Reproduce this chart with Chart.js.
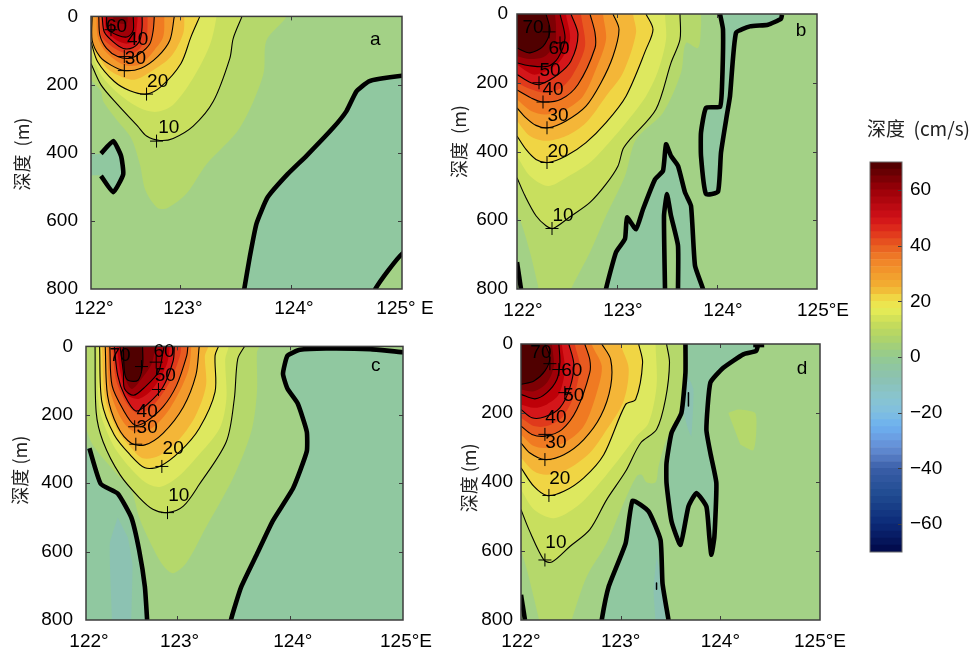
<!DOCTYPE html>
<html>
<head>
<meta charset="utf-8">
<script src="https://cdn.jsdelivr.net/npm/chart.js@4"></script>
<style>
html, body { margin: 0; padding: 0; background: #fff; }
canvas { position: absolute; }
</style>
</head>
<body>
<script>
// shared axes
var depthTicks = [0, 200, 400, 600, 800];
var lonTicksShort = [122.2, 123, 124, 125];
var lonTicksFull = [122, 123, 124, 125];

//////////////////////////////// PANEL a ////////////////////////////////
var aLon5 = [[122.2,186],[122.29,220],[122.31,249],[122.43,303],[122.56,356],[122.64,434],[122.69,510],[122.80,562],[122.89,562],[123.06,520],[123.24,434],[123.54,327],[123.75,172],[123.78,70],[123.96,0]];
var aLon10 = [[122.2,138],[122.29,201],[122.44,259],[122.62,322],[122.70,351],[122.82,364],[122.94,358],[123.12,322],[123.30,250],[123.45,123],[123.48,65],[123.56,0]];
var aLon15 = [[122.2,104],[122.29,172],[122.46,230],[122.64,269],[122.79,280],[122.94,259],[123.12,181],[123.27,84],[123.33,0]];
var aLon20 = [[122.2,75],[122.26,133],[122.41,191],[122.55,218],[122.70,228],[122.83,206],[123.01,138],[123.10,60],[123.18,0]];
var aLon25 = [[122.2,55],[122.32,143],[122.44,172],[122.59,186],[122.74,162],[122.92,118],[123.03,50],[123.04,0]];
var aLon30 = [[122.21,0],[122.21,70],[122.28,118],[122.38,143],[122.50,159],[122.65,152],[122.80,118],[122.91,70],[122.95,0]];
var aLon35 = [[122.25,0],[122.26,60],[122.32,99],[122.44,133],[122.53,145],[122.65,140],[122.77,99],[122.85,60],[122.86,0]];
var aLon40 = [[122.27,0],[122.28,55],[122.34,94],[122.44,118],[122.55,123],[122.64,109],[122.73,80],[122.76,41],[122.77,0]];
var aLon45 = [[122.29,0],[122.29,55],[122.37,84],[122.47,104],[122.56,109],[122.64,94],[122.70,60],[122.71,0]];
var aLon50 = [[122.30,0],[122.32,46],[122.40,75],[122.49,94],[122.58,91],[122.64,70],[122.66,31],[122.66,0]];
var aLon55 = [[122.32,0],[122.34,41],[122.43,70],[122.52,80],[122.59,70],[122.61,36],[122.62,0]];
var aLon60 = [[122.34,0],[122.35,36],[122.44,55],[122.53,60],[122.58,41],[122.58,0]];
var aLon65 = [[122.40,0],[122.41,16],[122.52,21],[122.53,0]];
var aNegMain = [[125.1,172],[125,174],[124.80,183],[124.70,191],[124.59,220],[124.50,278],[124.38,327],[124.14,409],[123.97,463],[123.79,531],[123.69,608],[123.63,705],[123.58,800],[123.57,830],[124.73,830],[124.76,800],[124.88,744],[125,697],[125.1,685]];
var aNegPocket = [[122.1,403],[122.29,403],[122.40,366],[122.47,409],[122.49,463],[122.40,516],[122.29,468],[122.1,468]];
var aThickPocket = [[122.29,403],[122.40,366],[122.47,409],[122.49,463],[122.40,516],[122.29,468]];
var aMarks = [[122.38,39],[122.50,118],[122.50,159],[122.70,228],[122.79,366]];
var aLabels = ["60", "40", "30", "20", "10", "a"];
var aLabelPos = [[122.43,31],[122.62,70],[122.60,123],[122.80,191],[122.90,327],[124.76,70]];

//////////////////////////////// PANEL b ////////////////////////////////
var bLon5 = [[122,587],[122.04,606],[122.13,693],[122.21,790],[122.23,820],[122.53,820],[122.54,800],[122.73,693],[122.89,587],[123.08,471],[123.19,365],[123.46,287],[123.64,171],[123.69,84],[123.81,99],[123.84,36],[123.84,0]];
var bLon10 = [[122,476],[122.08,529],[122.19,587],[122.29,616],[122.36,624],[122.53,590],[122.73,548],[122.89,495],[123.01,442],[123.06,393],[123.13,365],[123.39,277],[123.54,142],[123.63,74],[123.63,0]];
var bLon15 = [[122,413],[122.13,471],[122.31,500],[122.49,476],[122.73,432],[122.89,384],[123.09,316],[123.29,239],[123.41,166],[123.49,74],[123.48,0]];
var bLon20 = [[122,355],[122.09,394],[122.19,423],[122.31,432],[122.49,413],[122.69,374],[122.89,316],[123.09,239],[123.29,103],[123.36,45],[123.29,0]];
var bLon25 = [[122,311],[122.13,355],[122.29,369],[122.49,355],[122.69,316],[122.89,239],[123.06,171],[123.19,55],[123.16,0]];
var bLon30 = [[122,273],[122.09,302],[122.19,324],[122.31,331],[122.49,311],[122.69,268],[122.84,200],[122.96,123],[123.02,45],[122.96,0]];
var bLon35 = [[122,249],[122.14,282],[122.29,292],[122.49,277],[122.66,239],[122.79,160],[122.89,74],[122.86,0]];
var bLon40 = [[122,221],[122.14,244],[122.26,256],[122.44,248],[122.61,205],[122.78,99],[122.78,55],[122.73,0]];
var bLon45 = [[122,200],[122.14,219],[122.28,229],[122.44,215],[122.56,176],[122.68,94],[122.64,0]];
var bLon50 = [[122,176],[122.14,200],[122.23,205],[122.41,176],[122.54,137],[122.61,60],[122.54,0]];
var bLon55 = [[122,147],[122.16,176],[122.29,166],[122.43,137],[122.53,74],[122.49,0]];
var bLon60 = [[122,142],[122.11,150],[122.31,152],[122.41,128],[122.48,70],[122.43,0]];
var bLon65 = [[122,123],[122.13,131],[122.28,123],[122.38,84],[122.39,36],[122.38,0]];
var bLon70 = [[122,99],[122.13,113],[122.26,94],[122.33,50],[122.29,0]];
var bNegTop = [[124.03,0],[124.06,45],[124.05,210],[124.03,270],[123.89,273],[123.84,345],[123.84,413],[123.89,524],[124.01,517],[124.04,403],[124.10,292],[124.13,239],[124.19,55],[124.33,36],[124.51,31],[124.64,14],[124.65,2]];
var bNegBottom = [[122.88,840],[122.89,800],[122.99,693],[123.08,654],[123.10,592],[123.19,626],[123.26,568],[123.38,481],[123.46,456],[123.49,379],[123.54,413],[123.61,442],[123.68,519],[123.74,558],[123.78,732],[123.86,800],[123.88,840]];
var bSpike = [[123.48,840],[123.48,800],[123.47,587],[123.50,524],[123.54,587],[123.61,674],[123.61,800],[123.61,840]];
var bCorner = [[122.0,722],[122.04,800]];
var bMarks = [[122.32,52],[122.43,84],[122.22,200],[122.26,256],[122.30,331],[122.30,432],[122.35,624]];
var bLabels = ["70", "60", "50", "40", "30", "20", "10", "b"];
var bLabelPos = [[122.16,41],[122.42,102],[122.33,166],[122.36,221],[122.41,295],[122.41,401],[122.46,587],[124.84,50]];

//////////////////////////////// PANEL c ////////////////////////////////
var cLon5 = [[122.2,240],[122.26,288],[122.45,365],[122.60,423],[122.67,500],[122.76,568],[122.88,640],[122.97,663],[123.09,631],[123.26,529],[123.50,384],[123.66,249],[123.71,133],[123.71,17],[123.73,0]];
var cLon10 = [[122.28,0],[122.29,193],[122.35,278],[122.50,375],[122.67,442],[122.79,476],[122.92,486],[123.06,467],[123.20,404],[123.44,278],[123.51,153],[123.54,37],[123.60,0]];
var cLon15 = [[122.30,0],[122.32,182],[122.44,288],[122.59,355],[122.73,399],[122.85,411],[123.00,385],[123.17,327],[123.38,240],[123.44,153],[123.43,37],[123.46,0]];
var cLon20 = [[122.32,0],[122.34,162],[122.45,259],[122.59,317],[122.72,355],[122.85,351],[123.03,307],[123.20,240],[123.34,133],[123.34,27],[123.37,0]];
var cLon25 = [[122.34,0],[122.37,153],[122.47,240],[122.59,293],[122.70,327],[122.85,319],[123.03,269],[123.17,201],[123.26,114],[123.25,27],[123.28,0]];
var cLon30 = [[122.37,0],[122.39,143],[122.48,235],[122.60,283],[122.72,288],[122.88,254],[123.06,177],[123.17,85],[123.20,0]];
var cLon35 = [[122.39,0],[122.41,124],[122.51,211],[122.62,249],[122.76,244],[122.94,182],[123.10,75],[123.13,0]];
var cLon40 = [[122.41,0],[122.43,114],[122.53,186],[122.63,230],[122.73,220],[122.88,177],[123.00,114],[123.09,27],[123.10,0]];
var cLon45 = [[122.43,0],[122.47,104],[122.57,172],[122.66,196],[122.78,177],[122.94,104],[123.03,27],[123.04,0]];
var cLon50 = [[122.45,0],[122.48,85],[122.54,143],[122.64,189],[122.75,167],[122.88,119],[122.97,42],[122.98,0]];
var cLon55 = [[122.47,0],[122.51,85],[122.57,143],[122.67,153],[122.79,124],[122.91,56],[122.94,0]];
var cLon60 = [[122.50,0],[122.53,75],[122.54,124],[122.62,143],[122.72,119],[122.84,75],[122.88,17],[122.89,0]];
var cLon65 = [[122.51,0],[122.53,75],[122.60,124],[122.69,95],[122.78,51],[122.81,0]];
var cLon70 = [[122.53,0],[122.54,75],[122.57,99],[122.66,99],[122.70,56],[122.70,0]];
var cNegRight = [[125.1,17],[125,17],[124.71,8],[124.32,6],[124.09,10],[123.98,27],[123.94,80],[123.98,124],[124.07,167],[124.15,249],[124.15,307],[124.03,414],[123.85,510],[123.71,607],[123.57,704],[123.48,800],[123.47,840],[125.1,840]];
var cNegLeftFill = [[122.1,298],[122.23,298],[122.33,402],[122.48,430],[122.60,500],[122.67,597],[122.72,703],[122.74,800],[122.75,840],[122.1,840]];
var cThickLeft = [[122.23,298],[122.33,402],[122.48,430],[122.60,500],[122.67,597],[122.72,703],[122.74,800]];
var cStrip = [[122.48,500],[122.41,578],[122.43,800],[122.43,840],[122.60,840],[122.60,800],[122.61,636],[122.57,559]];
var cMarks = [[122.69,59],[122.82,46],[122.84,126],[122.63,235],[122.64,286],[122.87,351],[122.92,486]];
var cLabels = ["70", "60", "50", "40", "30", "20", "10", "c"];
var cLabelPos = [[122.50,27],[122.89,17],[122.90,87],[122.74,191],[122.74,238],[122.97,299],[123.02,438],[124.76,58]];

//////////////////////////////// PANEL d ////////////////////////////////
var dLon5 = [[122,597],[122.06,655],[122.18,798],[122.19,820],[122.49,820],[122.51,798],[122.66,674],[122.86,577],[123.03,461],[123.16,383],[123.21,379],[123.26,401],[123.35,401],[123.38,355],[123.46,277],[123.60,200],[123.63,83],[123.64,0]];
var dLon10 = [[122,480],[122.08,538],[122.23,626],[122.31,632],[122.49,587],[122.69,538],[122.86,451],[123.05,369],[123.20,287],[123.36,248],[123.45,160],[123.49,54],[123.46,0]];
var dLon15 = [[122,422],[122.13,480],[122.33,505],[122.56,471],[122.76,413],[122.98,335],[123.16,267],[123.28,229],[123.36,122],[123.35,0]];
var dLon20 = [[122,359],[122.13,413],[122.26,439],[122.43,427],[122.63,388],[122.83,321],[123.05,175],[123.15,161],[123.22,54],[123.18,0]];
var dLon25 = [[122,330],[122.13,369],[122.26,379],[122.46,364],[122.69,316],[122.86,248],[123.03,165],[123.08,70],[123.00,0]];
var dLon30 = [[122,287],[122.09,316],[122.24,335],[122.43,321],[122.63,277],[122.80,209],[122.90,122],[122.90,45],[122.81,0]];
var dLon35 = [[122,262],[122.13,296],[122.26,301],[122.46,282],[122.63,238],[122.76,141],[122.81,64],[122.71,0]];
var dLon40 = [[122,238],[122.11,262],[122.24,267],[122.41,248],[122.56,190],[122.69,83],[122.69,45],[122.64,0]];
var dLon45 = [[122,214],[122.13,238],[122.26,238],[122.41,214],[122.53,151],[122.59,64],[122.54,0]];
var dLon50 = [[122,190],[122.11,214],[122.24,211],[122.39,185],[122.49,127],[122.53,59],[122.48,0]];
var dLon55 = [[122,175],[122.13,185],[122.26,175],[122.38,146],[122.44,74],[122.41,0]];
var dLon60 = [[122,146],[122.14,159],[122.26,141],[122.36,103],[122.39,54],[122.38,0]];
var dLon65 = [[122,132],[122.13,137],[122.26,112],[122.33,64],[122.31,0]];
var dLon70 = [[122,117],[122.13,107],[122.24,78],[122.29,40],[122.24,0]];
var dNegTop = [[123.65,0],[123.65,83],[123.61,199],[123.51,258],[123.46,345],[123.46,403],[123.51,514],[123.60,582],[123.68,471],[123.76,432],[123.86,471],[123.89,560],[123.91,611],[123.94,560],[123.96,403],[123.90,316],[123.86,248],[123.90,112],[124.03,69],[124.23,30],[124.36,20],[124.38,0]];
var dNegBottom = [[122.80,840],[122.81,800],[122.88,703],[123.05,577],[123.12,454],[123.28,485],[123.40,568],[123.42,694],[123.48,800],[123.50,840]];
var dCorner = [[122.0,727],[122.04,800]];
var dCap = [[124.33,3],[124.44,3]];
var dStripUpper = [[123.66,83],[123.73,131],[123.71,267],[123.68,250],[123.63,199]];
var dStripLower = [[123.36,616],[123.33,713],[123.35,800],[123.35,840],[123.45,840],[123.45,800],[123.42,694]];
var dPatch = [[124.08,200],[124.18,190],[124.35,200],[124.36,258],[124.33,308],[124.20,291]];
var dNickUpper = [[123.68,141],[123.68,180]];
var dNickLower = [[123.36,693],[123.36,711]];
var dMarks = [[122.29,57],[122.38,74],[122.44,141],[122.24,262],[122.24,335],[122.28,439],[122.24,626]];
var dLabels = ["70", "60", "50", "40", "30", "20", "10", "d"];
var dLabelPos = [[122.20,25],[122.51,78],[122.53,151],[122.35,214],[122.35,287],[122.39,390],[122.35,577],[124.82,72]];

//////////////////////////////// COLOUR BAR ////////////////////////////////
var barEdges = [-70,-67.5,-65,-62.5,-60,-57.5,-55,-52.5,-50,-47.5,-45,-42.5,-40,-37.5,-35,-32.5,-30,-27.5,-25,-22.5,-20,-17.5,-15,-12.5,-10,-7.5,-5,-2.5,0,2.5,5,7.5,10,12.5,15,17.5,20,22.5,25,27.5,30,32.5,35,37.5,40,42.5,45,47.5,50,52.5,55,57.5,60,62.5,65,67.5,70];
var barTicks = [-60, -40, -20, 0, 20, 40, 60];
var barTickLabels = ["\u221260", "\u221240", "\u221220", "0", "20", "40", "60"];

// colours of the fill bands
var negColor = "#90C8A0";
var negDeepColor = "#8CC2B2";
var baseColor = "#A3D186";
var bandColors = {5: "#B5D86B", 10: "#C8DF5E", 15: "#DDE85F", 20: "#F0D544", 25: "#F4B638", 30: "#F39A2C", 35: "#F07A22", 40: "#E85A20", 45: "#E03A1C", 50: "#D4161A", 55: "#BE0008", 60: "#A00008", 65: "#7E0004", 70: "#500000"};
var barStops = [[-70,"#000848"],[-60,"#0c2a78"],[-50,"#1f4a90"],[-40,"#3a5fa8"],[-35,"#5a80c8"],[-30,"#6a9ae0"],[-25,"#6cb0f0"],[-20,"#80bfe0"],[-15,"#88c4d0"],[-7,"#8cc2ae"],[-2,"#90c89a"],[2,"#9bcd84"],[7,"#b0d468"],[12,"#c8dc5a"],[17,"#e8ec55"],[20,"#efe04a"],[22,"#f0d040"],[25,"#f2b033"],[30,"#f29a2c"],[35,"#f08028"],[40,"#e85a20"],[45,"#e0301c"],[50,"#d01018"],[60,"#9a0008"],[70,"#4a0000"]];

var fontName = "'Liberation Sans', Arial, sans-serif";
var fontSize = 19;
var cjkFont = "'Noto Sans CJK SC', " + fontName;

/**
 * Close a contour that leans on the top of the plot, with the extra points outside the plot
 */
function closeAtTop(points){
    var first = points[0];
    var last = points[points.length - 1];
    var outLon = first[1] <= 0 ? first[0] : first[0] - 0.3;
    return points.concat([[last[0], -40], [outLon, -40], [outLon, first[1]]]);
}

function fillDataset(points, color, tension){
    return {type: "scatter", data: points, showLine: true, fill: "shape", backgroundColor: color, borderWidth: 0, pointRadius: 0, tension: tension, clip: 0};
}

function lineDataset(points, width, tension){
    return {type: "scatter", data: points, showLine: true, fill: false, borderColor: "#000", borderWidth: width, borderJoinStyle: "round", pointRadius: 0, tension: tension, clip: 0};
}

/**
 * Draw base colour, frame, inward ticks and text of one plot
 */
function panelDecor(cfg){
    return {
        id: "panelDecor",
        beforeDatasetsDraw(chart){
            var a = chart.chartArea;
            chart.ctx.fillStyle = baseColor;
            chart.ctx.fillRect(a.left, a.top, a.right - a.left, a.bottom - a.top);
        },
        afterDatasetsDraw(chart){
            var ctx = chart.ctx, a = chart.chartArea, x = chart.scales.x, y = chart.scales.y;
            ctx.save();
            ctx.strokeStyle = "#3c3c3c";
            ctx.lineWidth = 1;
            ctx.beginPath();
            cfg.lonTicks.slice(1, -1).forEach(v => {
                var px = Math.round(x.getPixelForValue(v)) + 0.5;
                ctx.moveTo(px, a.top); ctx.lineTo(px, a.top + 4);
                ctx.moveTo(px, a.bottom); ctx.lineTo(px, a.bottom - 4);
            });
            depthTicks.slice(1, -1).forEach(v => {
                var py = Math.round(y.getPixelForValue(v)) + 0.5;
                ctx.moveTo(a.left, py); ctx.lineTo(a.left + 4, py);
                ctx.moveTo(a.right, py); ctx.lineTo(a.right - 4, py);
            });
            ctx.stroke();
            ctx.lineWidth = 1.5;
            ctx.strokeRect(a.left, a.top, a.right - a.left, a.bottom - a.top);
            ctx.fillStyle = "#000";
            ctx.font = fontSize + "px " + fontName;
            ctx.textAlign = "center";
            ctx.textBaseline = "middle";
            cfg.labels.forEach((text, i) => {
                ctx.fillText(text, x.getPixelForValue(cfg.labelPos[i][0]), y.getPixelForValue(cfg.labelPos[i][1]));
            });
            // depth title, rotated
            ctx.translate(cfg.titleX, y.getPixelForValue(cfg.titleDepth));
            ctx.rotate(-Math.PI / 2);
            ctx.fillStyle = "#222";
            ctx.font = "18px " + cjkFont;
            ctx.fillText(cfg.depthTitle, 0, 0);
            ctx.restore();
        }
    };
}

/**
 * Create one section plot
 */
function createPanel(cfg){
    var canvas = document.createElement("canvas");
    canvas.width = cfg.width;
    canvas.height = cfg.height;
    canvas.style.left = cfg.left + "px";
    canvas.style.top = cfg.top + "px";
    document.body.appendChild(canvas);

    // bottom to top, Chart.js draws the first dataset last
    var datasets = [];
    cfg.negFills.forEach(f => datasets.push(fillDataset(f[0], f[1], 0.15)));
    cfg.bands.forEach(b => datasets.push(fillDataset(closeAtTop(b[1]), bandColors[b[0]], 0.3)));
    (cfg.patches || []).forEach(f => datasets.push(fillDataset(f[0], f[1], 0.2)));
    cfg.thick.forEach(t => datasets.push(lineDataset(t, 4.6, 0.15)));
    (cfg.thin || []).forEach(t => datasets.push(lineDataset(t, 1.5, 0)));
    cfg.bands.filter(b => b[0] % 10 == 0).forEach(b => datasets.push(lineDataset(b[1], 1.1, 0.3)));
    datasets.push({type: "scatter", data: cfg.marks, pointStyle: "cross", pointRadius: 6.5, borderColor: "#000", pointBorderColor: "#000", pointBorderWidth: 1, clip: 0});
    datasets.reverse();

    return new Chart(canvas.getContext("2d"), {
        type: "scatter",
        data: {datasets: datasets},
        options: {
            responsive: false,
            animation: false,
            devicePixelRatio: 1,
            events: [],
            layout: {padding: {top: cfg.plotTop, right: cfg.paddingRight, left: 0, bottom: 0}},
            plugins: {legend: {display: false}, tooltip: {enabled: false}},
            scales: {
                x: {
                    type: "linear",
                    min: cfg.lonTicks[0],
                    max: 125,
                    afterBuildTicks: s => { s.ticks = cfg.lonTicks.map(v => ({value: v})); },
                    afterFit: s => { s.height = cfg.axisHeight; },
                    grid: {display: false},
                    border: {display: false},
                    ticks: {
                        autoSkip: false,
                        maxRotation: 0,
                        padding: cfg.lonPad,
                        labelOffset: cfg.labelOffset,
                        color: "#000",
                        font: {family: fontName, size: fontSize},
                        callback: (v) => cfg.lonLabels[cfg.lonTicks.indexOf(v)]
                    }
                },
                y: {
                    type: "linear",
                    reverse: true,
                    min: 0,
                    max: 800,
                    afterBuildTicks: s => { s.ticks = depthTicks.map(v => ({value: v})); },
                    afterFit: s => { s.width = cfg.axisWidth; },
                    grid: {display: false},
                    border: {display: false},
                    ticks: {autoSkip: false, padding: cfg.depthPad, color: "#000", font: {family: fontName, size: fontSize}}
                }
            }
        },
        plugins: [panelDecor(cfg)]
    });
}

createPanel({
    left: 0, top: 0, width: 440, height: 325, plotTop: 14, paddingRight: 38, axisWidth: 91, axisHeight: 36, labelOffset: 3, lonPad: 0, depthPad: 5,
    depthTitle: "深度  (m)", titleX: 22, titleDepth: 404, lonTicks: lonTicksShort, lonLabels: ["122°", "123°", "124°", "125° E"],
    negFills: [[aNegMain, negColor], [aNegPocket, negColor]],
    bands: [[5,aLon5],[10,aLon10],[15,aLon15],[20,aLon20],[25,aLon25],[30,aLon30],[35,aLon35],[40,aLon40],[45,aLon45],[50,aLon50],[55,aLon55],[60,aLon60],[65,aLon65]],
    thick: [aNegMain, aThickPocket],
    marks: aMarks, labels: aLabels, labelPos: aLabelPos
});

createPanel({
    left: 445, top: 0, width: 415, height: 325, plotTop: 14, paddingRight: 43, axisWidth: 72, axisHeight: 36, labelOffset: 6, lonPad: 2, depthPad: 1,
    depthTitle: "深度  (m)", titleX: 14, titleDepth: 371, lonTicks: lonTicksFull, lonLabels: ["122°", "123°", "124°", "125°E"],
    negFills: [[closeAtTop(bNegTop), negColor], [bNegBottom, negColor], [bSpike, baseColor]],
    bands: [[5,bLon5],[10,bLon10],[15,bLon15],[20,bLon20],[25,bLon25],[30,bLon30],[35,bLon35],[40,bLon40],[45,bLon45],[50,bLon50],[55,bLon55],[60,bLon60],[65,bLon65],[70,bLon70]],
    thick: [bNegTop, bNegBottom, bSpike, bCorner],
    marks: bMarks, labels: bLabels, labelPos: bLabelPos
});

createPanel({
    left: 0, top: 330, width: 440, height: 326, plotTop: 14, paddingRight: 37, axisWidth: 86, axisHeight: 36, labelOffset: 3, lonPad: 2, depthPad: 5,
    depthTitle: "深度 (m)", titleX: 20, titleDepth: 362, lonTicks: lonTicksShort, lonLabels: ["122°", "123°", "124°", "125°E"],
    negFills: [[cNegRight, negColor], [cNegLeftFill, negColor], [cStrip, negDeepColor]],
    bands: [[5,cLon5],[10,cLon10],[15,cLon15],[20,cLon20],[25,cLon25],[30,cLon30],[35,cLon35],[40,cLon40],[45,cLon45],[50,cLon50],[55,cLon55],[60,cLon60],[65,cLon65],[70,cLon70]],
    thick: [cNegRight, cThickLeft],
    marks: cMarks, labels: cLabels, labelPos: cLabelPos
});

createPanel({
    left: 445, top: 330, width: 415, height: 326, plotTop: 14, paddingRight: 40, axisWidth: 76, axisHeight: 36, labelOffset: 0, lonPad: 2, depthPad: 0,
    depthTitle: "深度 (m)", titleX: 24, titleDepth: 388, lonTicks: lonTicksFull, lonLabels: ["122°", "123°", "124°", "125°E"],
    negFills: [[closeAtTop(dNegTop), negColor], [dStripUpper, negDeepColor], [dNegBottom, negColor], [dStripLower, negDeepColor]],
    bands: [[5,dLon5],[10,dLon10],[15,dLon15],[20,dLon20],[25,dLon25],[30,dLon30],[35,dLon35],[40,dLon40],[45,dLon45],[50,dLon50],[55,dLon55],[60,dLon60],[65,dLon65],[70,dLon70]],
    patches: [[dPatch, bandColors[5]]],
    thick: [dNegTop, dNegBottom, dCorner, dCap],
    thin: [dNickUpper, dNickLower],
    marks: dMarks, labels: dLabels, labelPos: dLabelPos
});

/**
 * Colour of a colour bar level between the stops
 */
function barColor(value){
    for(let i = 1; i < barStops.length; i++){
        if(value <= barStops[i][0]){
            let t = (value - barStops[i - 1][0]) / (barStops[i][0] - barStops[i - 1][0]);
            let from = barStops[i - 1][1], to = barStops[i][1];
            let rgb = [1, 3, 5].map(p => Math.round(parseInt(from.substr(p, 2), 16) * (1 - t) + parseInt(to.substr(p, 2), 16) * t));
            return "rgb(" + rgb.join(",") + ")";
        }
    }
    return barStops[barStops.length - 1][1];
}

// colour bar
var barCanvas = document.createElement("canvas");
barCanvas.width = 115;
barCanvas.height = 470;
barCanvas.style.left = "860px";
barCanvas.style.top = "110px";
document.body.appendChild(barCanvas);

var barDatasets = [];
for(let i = 0; i < barEdges.length - 1; i++){
    barDatasets.push({data: [[barEdges[i], barEdges[i + 1]]], backgroundColor: barColor((barEdges[i] + barEdges[i + 1]) / 2), borderWidth: 0, barPercentage: 1, categoryPercentage: 1, grouped: false});
}

new Chart(barCanvas.getContext("2d"), {
    type: "bar",
    data: {labels: ["cm/s"], datasets: barDatasets},
    options: {
        responsive: false,
        animation: false,
        devicePixelRatio: 1,
        events: [],
        layout: {padding: {top: 52, left: 10, bottom: 28, right: 0}},
        plugins: {legend: {display: false}, tooltip: {enabled: false}},
        scales: {
            x: {display: false, stacked: false},
            y: {
                position: "right",
                min: -70,
                max: 70,
                afterBuildTicks: s => { s.ticks = barTicks.map(v => ({value: v})); },
                afterFit: s => { s.width = 73; },
                grid: {display: false},
                border: {display: false},
                ticks: {
                    autoSkip: false,
                    padding: 0,
                    color: "#000",
                    font: {family: fontName, size: fontSize},
                    callback: v => barTickLabels[barTicks.indexOf(v)]
                }
            }
        }
    },
    plugins: [{
        id: "barDecor",
        afterDatasetsDraw(chart){
            var ctx = chart.ctx, a = chart.chartArea, y = chart.scales.y;
            ctx.save();
            ctx.strokeStyle = "#3c3c3c";
            ctx.lineWidth = 1;
            ctx.beginPath();
            barTicks.forEach(v => {
                var py = Math.round(y.getPixelForValue(v)) + 0.5;
                ctx.moveTo(a.right, py); ctx.lineTo(a.right - 4, py);
            });
            ctx.stroke();
            ctx.strokeStyle = "#6a6a6a";
            ctx.strokeRect(a.left, a.top, a.right - a.left, a.bottom - a.top);
            ctx.fillStyle = "#222";
            ctx.font = fontSize + "px " + cjkFont;
            ctx.textAlign = "left";
            ctx.textBaseline = "middle";
            ctx.fillText("深度  (cm/s)", a.left - 3, a.top - 33);
            ctx.restore();
        }
    }]
});
</script>
</body>
</html>
